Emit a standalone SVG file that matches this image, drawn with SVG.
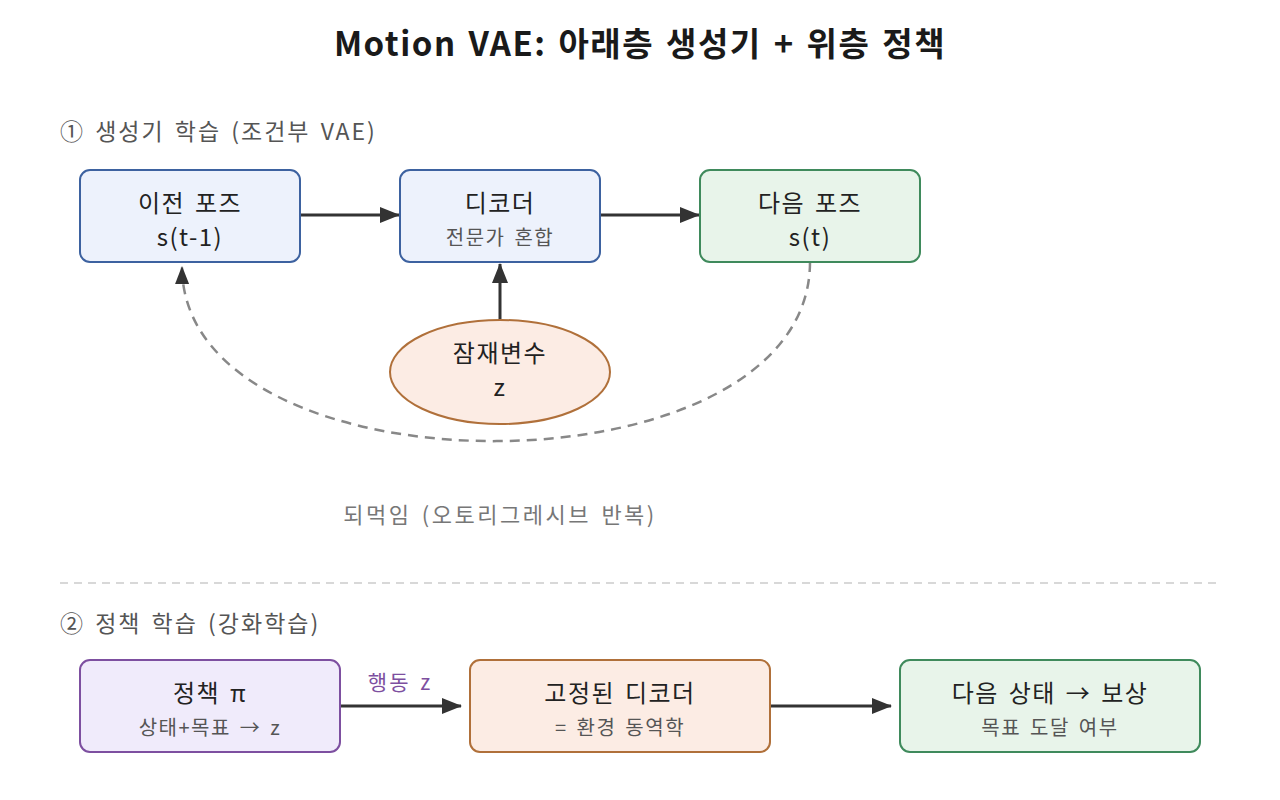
<svg xmlns="http://www.w3.org/2000/svg" width="1280" height="800" viewBox="0 0 1280 800">
<style>
text{font-family:"Noto Sans CJK KR","Noto Sans",sans-serif}
.title{font-size:33px;font-weight:bold;fill:#1a1a1a;text-anchor:middle;letter-spacing:1.5px;word-spacing:3px}
.sec{font-size:23px;fill:#555;letter-spacing:2px;word-spacing:3px}
.main{font-size:24px;fill:#222;text-anchor:middle;letter-spacing:1.5px;word-spacing:3px}
.sub{font-size:20px;fill:#555;text-anchor:middle;letter-spacing:1.5px;word-spacing:3px}
.blue{fill:#edf2fc;stroke:#3d62a0;stroke-width:2}
.green{fill:#e8f4ea;stroke:#3f8a5c;stroke-width:2}
.orange{fill:#fcece4;stroke:#b0703a;stroke-width:2}
.purple{fill:#f0ebfb;stroke:#7d4fa0;stroke-width:2}
.arrow{stroke:#333;stroke-width:3;fill:none;marker-end:url(#ah)}
.dash{stroke:#888;stroke-width:2.5;fill:none;stroke-dasharray:10 7;marker-end:url(#ahg)}
</style>
<defs>
<marker id="ah" viewBox="0 0 20 16" refX="19" refY="8" markerWidth="20" markerHeight="16" markerUnits="userSpaceOnUse" orient="auto"><path d="M0,0 L20,8 L0,16 z" fill="#333"/></marker>
<marker id="ahg" viewBox="0 0 18 14" refX="17" refY="7" markerWidth="18" markerHeight="14" markerUnits="userSpaceOnUse" orient="auto"><path d="M0,0 L18,7 L0,14 z" fill="#333"/></marker>
</defs>
<rect width="1280" height="800" fill="#fff"/>
<text class="title" x="640" y="56">Motion VAE: 아래층 생성기 + 위층 정책</text>
<text class="sec" x="60" y="140">① 생성기 학습 (조건부 VAE)</text>

<g id="connectors">
<line class="arrow" x1="300" y1="215" x2="399" y2="215"/>
<line class="arrow" x1="600" y1="215" x2="699" y2="215"/>
<line class="arrow" x1="500" y1="319" x2="500" y2="264"/>
<path class="dash" d="M810,262 C810,500 183,500 182,267"/>
<line class="arrow" x1="340" y1="706" x2="461" y2="706"/>
<line class="arrow" x1="770" y1="706" x2="891" y2="706"/>
<text x="400" y="690" style="font-size:21px;fill:#7d4fa0;text-anchor:middle;letter-spacing:2px;word-spacing:3px">행동 z</text>
<text x="500" y="523" style="font-size:22px;fill:#777;text-anchor:middle;letter-spacing:2.5px;word-spacing:3px">되먹임 (오토리그레시브 반복)</text>
</g>

<g id="prev">
<rect class="blue" x="80" y="170" width="220" height="92" rx="10"/>
<text class="main" x="190" y="212">이전 포즈</text>
<text class="main" x="190" y="246">s(t-1)</text>
</g>
<g id="decoder">
<rect class="blue" x="400" y="170" width="200" height="92" rx="10"/>
<text class="main" x="500" y="212">디코더</text>
<text class="sub" x="500" y="245">전문가 혼합</text>
</g>
<g id="next">
<rect class="green" x="700" y="170" width="220" height="92" rx="10"/>
<text class="main" x="810" y="212">다음 포즈</text>
<text class="main" x="810" y="246">s(t)</text>
</g>
<g id="latent">
<ellipse class="orange" cx="500" cy="372" rx="110" ry="52"/>
<text class="main" x="500" y="362">잠재변수</text>
<text class="main" x="500" y="396">z</text>
</g>

<line x1="60" y1="583" x2="1220" y2="583" stroke="#ccc" stroke-width="1.5" stroke-dasharray="8 6"/>
<text class="sec" x="60" y="632">② 정책 학습 (강화학습)</text>

<g id="policy">
<rect class="purple" x="80" y="660" width="260" height="92" rx="10"/>
<text class="main" x="210" y="702">정책 π</text>
<text class="sub" x="210" y="735">상태+목표 → z</text>
</g>
<g id="fixed">
<rect class="orange" x="470" y="660" width="300" height="92" rx="10"/>
<text class="main" x="620" y="702">고정된 디코더</text>
<text class="sub" x="620" y="735">= 환경 동역학</text>
</g>
<g id="reward">
<rect class="green" x="900" y="660" width="300" height="92" rx="10"/>
<text class="main" x="1050" y="702">다음 상태 → 보상</text>
<text class="sub" x="1050" y="735">목표 도달 여부</text>
</g>
</svg>
